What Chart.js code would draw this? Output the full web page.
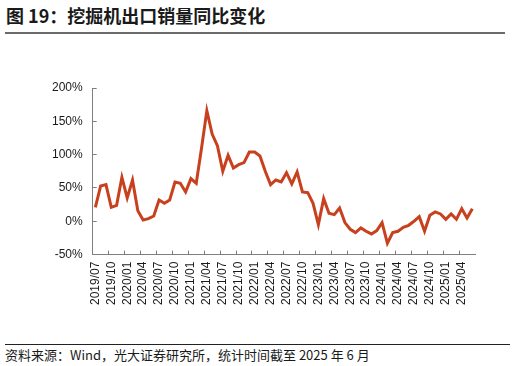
<!DOCTYPE html>
<html>
<head>
<meta charset="utf-8">
<script src="https://cdn.jsdelivr.net/npm/chart.js@4/dist/chart.umd.min.js"></script>
<style>
    body { margin: 0; width: 516px; height: 366px; background: #fff; position: relative; overflow: hidden; }
    #title { position: absolute; left: 6px; top: 2px; font: bold 18px "Noto Sans CJK SC", sans-serif; color: #1a1a1a; }
    #titleRule { position: absolute; left: 5px; top: 32px; width: 500px; height: 2px; background: #6b6b6b; }
    #chartBox { position: absolute; left: 0; top: 60px; width: 516px; height: 260px; }
    #footRule { position: absolute; left: 5px; top: 344px; width: 505px; height: 1px; background: #222; }
    #source { position: absolute; left: 5px; top: 345px; font: 13px "Noto Sans CJK SC", sans-serif; color: #1a1a1a; }
</style>
</head>
<body>
<div id="title">图 19：挖掘机出口销量同比变化</div>
<div id="titleRule"></div>
<div id="chartBox"><canvas id="exportChart"></canvas></div>
<div id="footRule"></div>
<div id="source">资料来源：Wind，光大证券研究所，统计时间截至 2025 年 6 月</div>

<script>
// monthly categories, 2019/07 - 2025/06
const months = [
    '2019/07', '2019/08', '2019/09', '2019/10', '2019/11', '2019/12',
    '2020/01', '2020/02', '2020/03', '2020/04', '2020/05', '2020/06',
    '2020/07', '2020/08', '2020/09', '2020/10', '2020/11', '2020/12',
    '2021/01', '2021/02', '2021/03', '2021/04', '2021/05', '2021/06',
    '2021/07', '2021/08', '2021/09', '2021/10', '2021/11', '2021/12',
    '2022/01', '2022/02', '2022/03', '2022/04', '2022/05', '2022/06',
    '2022/07', '2022/08', '2022/09', '2022/10', '2022/11', '2022/12',
    '2023/01', '2023/02', '2023/03', '2023/04', '2023/05', '2023/06',
    '2023/07', '2023/08', '2023/09', '2023/10', '2023/11', '2023/12',
    '2024/01', '2024/02', '2024/03', '2024/04', '2024/05', '2024/06',
    '2024/07', '2024/08', '2024/09', '2024/10', '2024/11', '2024/12',
    '2025/01', '2025/02', '2025/03', '2025/04', '2025/05', '2025/06'
];

// YoY change of excavator exports, %
const yoyChange = [
    21, 53, 55, 21, 24, 66, 35, 62, 16, 2, 4, 8,
    32, 27, 32, 59, 57, 44, 64, 57, 110, 166, 131, 113,
    75, 99, 80, 85, 88, 104, 104, 98, 75, 55, 62, 59,
    73, 56, 74, 44, 43, 27, -5, 34, 12, 10, 20, -2,
    -12, -17, -10, -15, -19, -14, -2, -33, -17, -15, -9, -6,
    0, 7, -15, 9, 14, 11, 3, 11, 3, 19, 5, 19
];

const yTicks = [-50, 0, 50, 100, 150, 200];

const axisGray = '#7f7f7f';
const tickFont = { family: '"Liberation Sans", Arial, sans-serif', size: 12 };

const ctx = document.getElementById('exportChart').getContext('2d');
new Chart(ctx, {
    type: 'line',
    data: {
        labels: months,
        datasets: [{
            label: '挖掘机出口销量同比',
            data: yoyChange,
            borderColor: '#C8411E',
            borderWidth: 3,
            pointRadius: 0,
            tension: 0,
            fill: false
        }]
    },
    options: {
        responsive: true,
        maintainAspectRatio: false,
        animation: false,
        layout: {
            padding: { left: 38, right: 41, top: 28, bottom: 4 }
        },
        scales: {
            x: {
                offset: true,
                border: { color: axisGray, width: 1 },
                grid: {
                    offset: true,
                    drawOnChartArea: false,
                    tickLength: -4,
                    color: c => (c.index % 3 === 0 ? axisGray : 'rgba(0,0,0,0)')
                },
                ticks: {
                    autoSkip: false,
                    maxRotation: 90,
                    minRotation: 90,
                    padding: 11,
                    color: '#1a1a1a',
                    font: tickFont,
                    callback: function (val, i) {
                        return i % 3 === 0 ? months[i] : '';
                    }
                }
            },
            y: {
                min: yTicks[0],
                max: yTicks[yTicks.length - 1],
                afterBuildTicks: axis => {
                    axis.ticks = yTicks.map(v => ({ value: v }));
                },
                border: { color: axisGray, width: 1 },
                grid: {
                    drawOnChartArea: false,
                    tickLength: -4,
                    color: axisGray
                },
                ticks: {
                    padding: 14,
                    color: '#1a1a1a',
                    font: tickFont,
                    callback: v => v + '%'
                }
            }
        },
        plugins: {
            legend: { display: false },
            tooltip: { enabled: false }
        }
    }
});
</script>
</body>
</html>
